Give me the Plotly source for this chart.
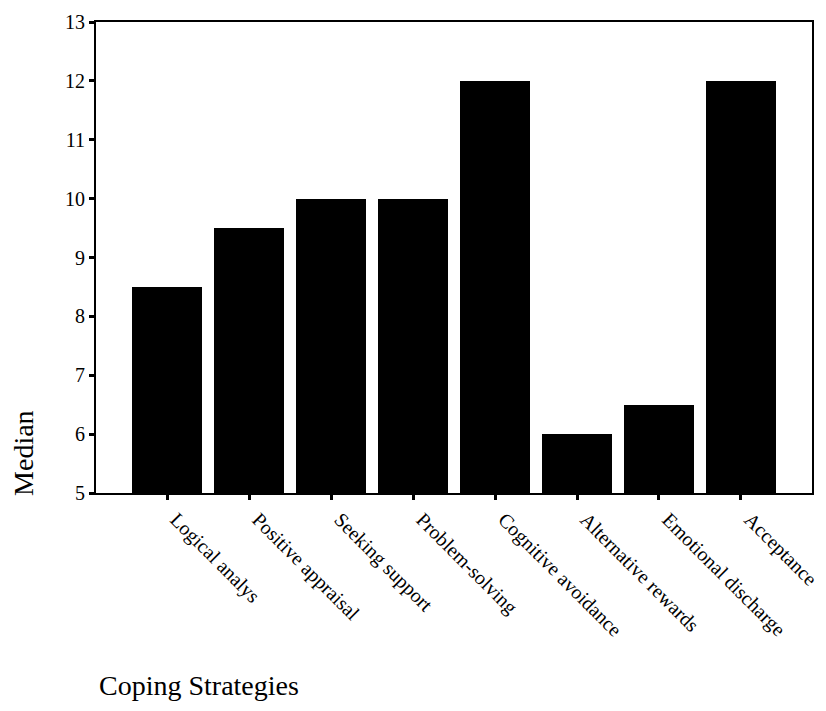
import plotly.graph_objects as go

categories = ["Logical analys", "Positive appraisal", "Seeking support", "Problem-solving",
              "Cognitive avoidance", "Alternative rewards", "Emotional discharge", "Acceptance"]
medians = [8.5, 9.5, 10, 10, 12, 6, 6.5, 12]
y_ticks = [5, 6, 7, 8, 9, 10, 11, 12, 13]

FONT = "Liberation Serif, Times New Roman, serif"

fig = go.Figure(go.Bar(
    x=list(range(len(categories))), y=medians,
    marker=dict(color="black", line=dict(width=0)),
    width=0.86,
))

fig.update_layout(
    width=818, height=703,
    margin=dict(l=88, r=14, t=14, b=218),
    paper_bgcolor="white", plot_bgcolor="white",
    showlegend=False,
    font=dict(family=FONT, size=20, color="black"),
    bargap=0,
)
fig.update_xaxes(
    range=[-0.866, 7.866], automargin=False,
    tickmode="array", tickvals=list(range(len(categories))), ticktext=categories,
    tickangle=45, ticklabelshift=9,
    ticks="outside", ticklen=5, tickwidth=3, tickcolor="black",
    showline=True, linecolor="black", linewidth=2, mirror=True,
    showgrid=False, zeroline=False,
    tickfont=dict(family=FONT, size=20, color="black"),
)
fig.update_yaxes(
    range=[5, 13], automargin=False,
    tickmode="array", tickvals=y_ticks,
    ticks="outside", ticklen=5, tickwidth=3, tickcolor="black",
    showline=True, linecolor="black", linewidth=2, mirror=True,
    showgrid=False, zeroline=False,
    tickfont=dict(family=FONT, size=20, color="black"),
)
fig.add_annotation(
    text="Median", xref="paper", yref="paper",
    x=-0.1006, y=0.085, textangle=-90, showarrow=False,
    xanchor="center", yanchor="middle",
    font=dict(family=FONT, size=28, color="black"),
)
fig.add_annotation(
    text="Coping Strategies", xref="paper", yref="paper",
    x=0.0014, y=-0.408, showarrow=False,
    xanchor="left", yanchor="middle",
    font=dict(family=FONT, size=28, color="black"),
)

fig.write_html("out.html")
